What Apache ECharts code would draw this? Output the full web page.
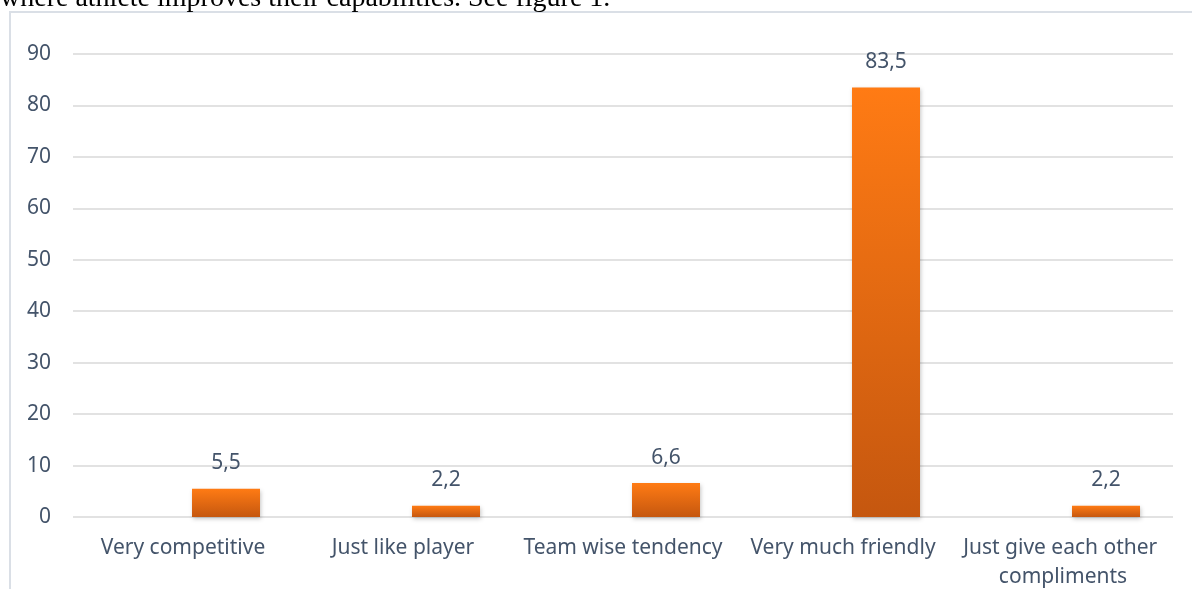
<!DOCTYPE html>
<html>
<head>
<meta charset="utf-8">
<script src="https://cdn.jsdelivr.net/npm/echarts@6/dist/echarts.min.js"></script>
<style>
  html, body { margin: 0; padding: 0; background: #ffffff; overflow: hidden; }
  #chart { width: 1192px; height: 589px; }
</style>
</head>
<body>
<div id="chart"></div>
<script>
// Attitudes between athletes (percent of respondents)
const categories = [
  'Very competitive',
  'Just like player',
  'Team wise tendency',
  'Very much friendly',
  'Just give each other compliments'
];
const percentValues = [5.5, 2.2, 6.6, 83.5, 2.2];
const emptySeries = [null, null, null, null, null];
const yTicks = { min: 0, max: 90, interval: 10 };

const textColor = '#44546A';
const gridColor = '#D9D9D9';
const uiFont = '"Noto Sans", "Open Sans", sans-serif';
const fontSize = 21;

const chart = echarts.init(document.getElementById('chart'), null, { renderer: 'canvas' });

chart.setOption({
  animation: false,
  backgroundColor: '#ffffff',
  textStyle: { fontFamily: uiFont },
  graphic: [
    {
      type: 'text',
      x: 0,
      y: -1,
      style: {
        text: 'where athlete improves their capabilities. See figure 1.',
        font: '28px "Liberation Serif", "DejaVu Serif", serif',
        verticalAlign: 'middle',
        fill: '#000000'
      }
    },
    {
      type: 'rect',
      shape: { x: 10, y: 12, width: 1200, height: 600 },
      style: { fill: 'none', stroke: '#DADFE6', lineWidth: 2 },
      z: -1
    }
  ],
  grid: { left: 73, right: 19, top: 54, bottom: 72, containLabel: false, outerBoundsMode: 'none' },
  xAxis: {
    type: 'category',
    data: categories,
    axisLine: { show: false },
    axisTick: { show: false },
    axisLabel: {
      color: textColor,
      fontSize: fontSize,
      fontFamily: uiFont,
      margin: 17,
      lineHeight: 29,
      width: 215,
      overflow: 'break',
      interval: 0
    }
  },
  yAxis: {
    type: 'value',
    min: yTicks.min,
    max: yTicks.max,
    interval: yTicks.interval,
    axisLine: { show: false },
    axisTick: { show: false },
    axisLabel: { color: textColor, fontSize: fontSize, fontFamily: uiFont, margin: 22 },
    splitLine: { lineStyle: { color: gridColor, width: 1.5 } }
  },
  series: [
    {
      type: 'bar',
      data: emptySeries,
      barWidth: 68,
      barGap: '26.5%',
      silent: true
    },
    {
      type: 'bar',
      data: percentValues,
      barWidth: 68,
      itemStyle: {
        color: new echarts.graphic.LinearGradient(0, 0, 0, 1, [
          { offset: 0, color: '#FF7B14' },
          { offset: 1, color: '#C5570F' }
        ]),
        shadowColor: 'rgba(0,0,0,0.22)',
        shadowBlur: 4,
        shadowOffsetX: 1,
        shadowOffsetY: 2
      },
      label: {
        show: true,
        position: 'top',
        distance: 15,
        color: textColor,
        fontSize: fontSize,
        fontFamily: uiFont,
        formatter: p => String(p.value).replace('.', ',')
      }
    }
  ]
});
</script>
</body>
</html>
